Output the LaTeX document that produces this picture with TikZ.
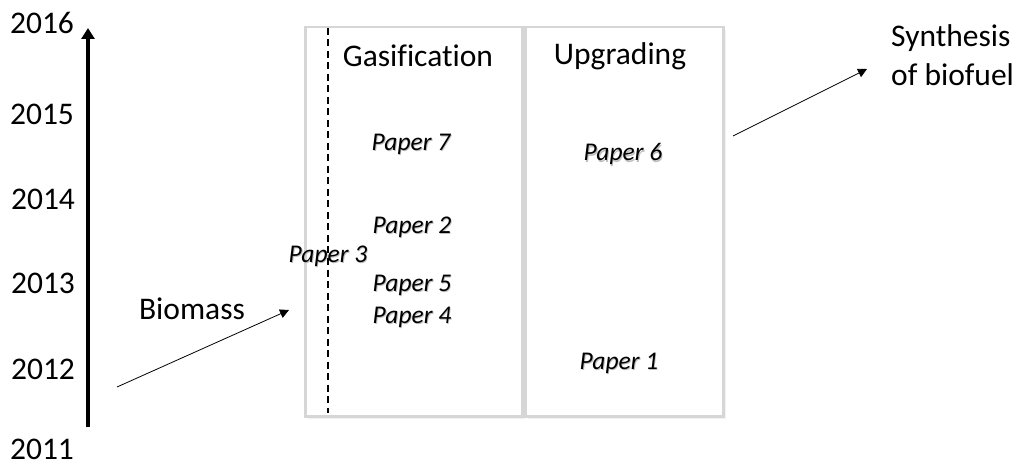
\documentclass[tikz,border=0pt]{standalone}
\usepackage{fontspec}
\setmainfont[Ligatures={NoCommon}]{Carlito}
\usetikzlibrary{arrows.meta}
\newcommand{\shtext}[1]{\rlap{\hspace{0.9pt}\raisebox{-1.2pt}{\color{black!25}#1}}#1}
\begin{document}
\begin{tikzpicture}[x=1pt,y=-1pt,
  year/.style={font=\fontsize{31.5}{36}\selectfont, inner sep=0pt, anchor=center},
  label/.style={font=\fontsize{31.5}{39}\selectfont, inner sep=0pt},
  paper/.style={font=\fontsize{25.5}{30}\selectfont\itshape, inner sep=0pt},
  panel/.style={draw=black!16, line width=2.5pt},
  thinarrow/.style={line width=0.8pt, -{Triangle[width=9pt,length=9pt]}},
]
\useasboundingbox (0,0) rectangle (1023,465);
% panels with soft shadow
\foreach \o/\c in {4/black!5,2.5/black!9}{
  \fill[\c] (304+\o,26+\o) rectangle (521+\o,415+\o);
  \fill[\c] (524+\o,26+\o) rectangle (722+\o,415+\o);
}
\node[panel, fill=white, minimum width=217pt, minimum height=389pt, inner sep=0pt, anchor=north west] (gasbox) at (304,26) {};
\node[panel, fill=white, minimum width=198pt, minimum height=389pt, inner sep=0pt, anchor=north west] (upbox) at (524,26) {};

% years
\node[year] (y2016) at (42,23) {2016};
\node[year] (y2015) at (42,114) {2015};
\node[year] (y2014) at (43,199) {2014};
\node[year] (y2013) at (43,283) {2013};
\node[year] (y2012) at (43,369) {2012};
\node[year] (y2011) at (42,449) {2011};
\coordinate (tbot) at (88,427);
\coordinate (ttop) at (88,28);
\draw[line width=3.5pt, -{Triangle[width=13pt,length=11pt]}] (tbot) -- (ttop);

% titles
\node[label] (gas) at (418,56) {Gasification};
\node[label] (upg) at (620,56) {Upgrading};

% papers
\node[paper] (p7) at (411,145) {\shtext{Paper 7}};
\node[paper] (p2) at (412,228) {\shtext{Paper 2}};
\node[paper] (p3) at (328,257) {\shtext{Paper 3}};
\node[paper] (p5) at (412,286) {\shtext{Paper 5}};
\node[paper] (p4) at (412,318) {\shtext{Paper 4}};
\node[paper] (p6) at (623,155) {\shtext{Paper 6}};
\node[paper] (p1) at (619,364) {\shtext{Paper 1}};

% dashed boundary
\coordinate (dtop) at (328,28);
\coordinate (dbot) at (328,413);
\draw[line width=2.5pt, dash pattern=on 7pt off 4.5pt] (dtop) -- (dbot);

% biomass
\node[label] (bio) at (192,309) {Biomass};
\coordinate (bstart) at (117,387);
\coordinate (bend) at (289,310);
\draw[thinarrow] (bstart) -- (bend);

% synthesis
\node[label, align=left, anchor=north west] (syn) at (891,24) {Synthesis\\of biofuel};
\coordinate (sstart) at (733,136);
\coordinate (send) at (867,69);
\draw[thinarrow] (sstart) -- (send);
\end{tikzpicture}
\end{document}
